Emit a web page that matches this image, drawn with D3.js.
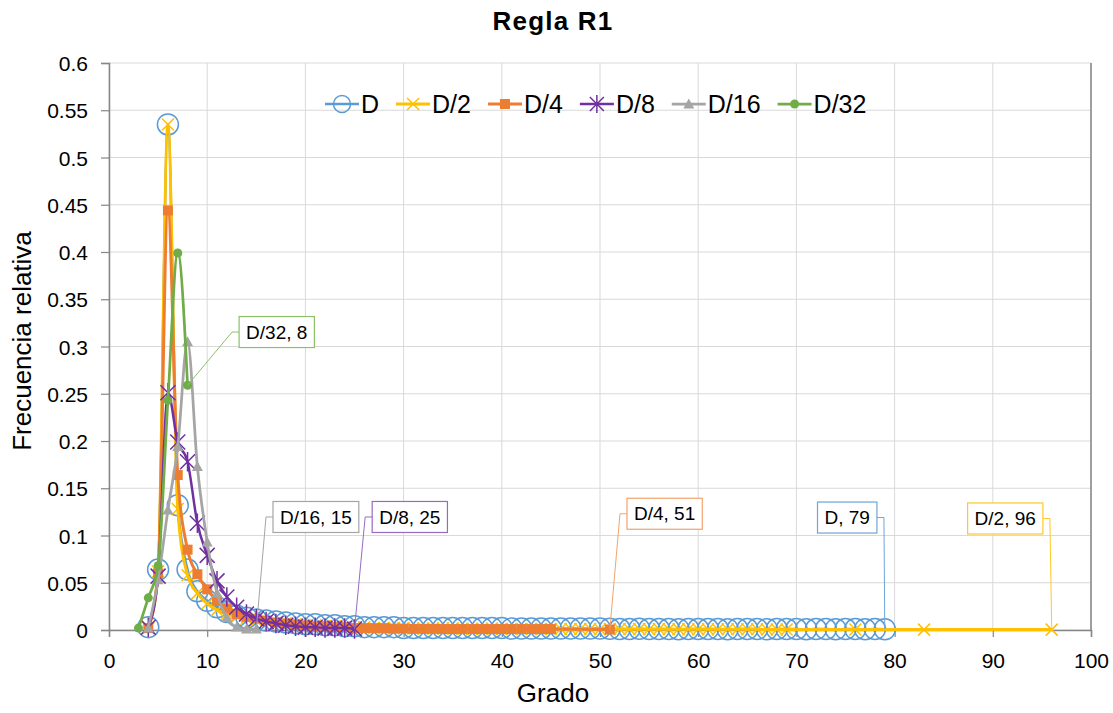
<!DOCTYPE html>
<html>
<head>
<meta charset="utf-8">
<script src="https://cdn.jsdelivr.net/npm/d3@7"></script>
<style>
  body { margin: 0; background: #fff; }
  text { font-family: "Liberation Sans", Arial, sans-serif; fill: #000; }
</style>
</head>
<body>
<div id="chart"></div>
<script>
var w = 1113;
var h = 713;
var margin = ({top: 63, right: 22, bottom: 83, left: 109});

// datos: grado y frecuencia relativa por serie
var series = ["D", "D/2", "D/4", "D/8", "D/16", "D/32"];

var gradoD = d3.range(4, 80);
var freqD = [0.003, 0.064, 0.535, 0.132, 0.064, 0.041, 0.031, 0.024, 0.019, 0.015, 0.013, 0.011,
  0.010, 0.009, 0.008, 0.007, 0.006, 0.006, 0.005, 0.005, 0.004, 0.004, 0.003, 0.003, 0.003, 0.003, 0.002,
  0.002, 0.002, 0.002, 0.002, 0.002, 0.002, 0.002, 0.002, 0.002, 0.002,
  0.0015, 0.0015, 0.0015, 0.0015, 0.0015, 0.0015, 0.0015, 0.0015, 0.0015, 0.0015,
  0.0012, 0.001, 0.001, 0.0012, 0.001, 0.001, 0.001, 0.0008, 0.001, 0.001, 0.001, 0.001, 0.0008, 0.001, 0.001,
  0.001, 0.0008, 0.001, 0.001, 0.001, 0.0008, 0.001, 0.001, 0.0008, 0.001, 0.001, 0.0008, 0.001, 0.0008];

var gradoD2 = d3.range(4, 70).concat([76, 83, 96]);
var freqD2 = [0.002, 0.062, 0.535, 0.128, 0.058, 0.039, 0.028, 0.021, 0.017, 0.014, 0.012, 0.010,
  0.009, 0.008, 0.007, 0.006, 0.005, 0.005, 0.004, 0.004, 0.003, 0.003, 0.003, 0.002, 0.002, 0.002, 0.002,
  0.0015, 0.0015, 0.0015, 0.0015, 0.0015, 0.0012, 0.0012, 0.0012, 0.0012, 0.0012, 0.001, 0.001, 0.001,
  0.001, 0.001, 0.001, 0.001, 0.001, 0.001, 0.0008, 0.001, 0.001, 0.0008, 0.001, 0.0008, 0.001, 0.0008,
  0.0008, 0.0008, 0.0008, 0.0007, 0.0008, 0.0007, 0.0007, 0.0007, 0.0007, 0.0006, 0.0006, 0.0006,
  0.0005, 0.0004, 0.0004];

var gradoD4 = d3.range(4, 46).concat([51]);
var freqD4 = [0.002, 0.060, 0.444, 0.164, 0.085, 0.059, 0.043, 0.031, 0.023, 0.017, 0.014, 0.012,
  0.010, 0.008, 0.007, 0.006, 0.005, 0.004, 0.004, 0.003, 0.003, 0.002, 0.002, 0.002, 0.002, 0.0015, 0.0015,
  0.0012, 0.0012, 0.0012, 0.001, 0.001, 0.001, 0.001, 0.001, 0.001, 0.001, 0.001, 0.001, 0.001, 0.001, 0.001,
  0.0005];

var gradoD8 = d3.range(4, 26);
var freqD8 = [0.003, 0.057, 0.251, 0.199, 0.178, 0.113, 0.079, 0.052, 0.035, 0.024, 0.017, 0.012,
  0.009, 0.007, 0.005, 0.004, 0.003, 0.003, 0.002, 0.002, 0.002, 0.001];

var gradoD16 = d3.range(4, 16);
var freqD16 = [0.002, 0.053, 0.127, 0.194, 0.305, 0.173, 0.093, 0.039, 0.013, 0.003, 0.001, 0.001];

var gradoD32 = d3.range(3, 9);
var freqD32 = [0.002, 0.034, 0.068, 0.243, 0.399, 0.259];

var xTicks = [0, 10, 20, 30, 40, 50, 60, 70, 80, 90, 100];
var yTicks = [0, 0.05, 0.1, 0.15, 0.2, 0.25, 0.3, 0.35, 0.4, 0.45, 0.5, 0.55, 0.6];

var grados = [gradoD, gradoD2, gradoD4, gradoD8, gradoD16, gradoD32];
var freqs = [freqD, freqD2, freqD4, freqD8, freqD16, freqD32];

var colors = ["#5B9BD5", "#FFC000", "#ED7D31", "#7030A0", "#A5A5A5", "#70AD47"];
var boxColors = ["#6FA5D8", "#FFC727", "#F4A36C", "#9A6AC0", "#A5A5A5", "#8CC06A"];
var markers = ["circle", "x", "square", "star", "triangle", "dot"];

// posicion de las etiquetas (en unidades de datos) y lado del cuadro
var labelPos = [
  {x: 78.2, y: 0.119, side: "left"},
  {x: 95.1, y: 0.118, side: "left"},
  {x: 52.75, y: 0.123, side: "right"},
  {x: 26.8, y: 0.1196, side: "right"},
  {x: 16.7, y: 0.1196, side: "right"},
  {x: 13.25, y: 0.3153, side: "right"}
];

var data = series.map(function(name, i) {
  return {
    name: name,
    values: grados[i].map(function(g, j) { return {x: g, y: freqs[i][j]}; })
  };
});

var xScale = d3.scaleLinear().domain([0, 100]).range([margin.left, w - margin.right]);
var yScale = d3.scaleLinear().domain([0, 0.6]).range([h - margin.bottom, margin.top]);

var svg = d3.select("#chart").append("svg")
  .attr("width", w)
  .attr("height", h);

// grid
svg.append("g")
  .selectAll("line.hgrid")
  .data(yTicks)
  .enter().append("line")
  .attr("x1", margin.left).attr("x2", w - margin.right)
  .attr("y1", function(d) { return yScale(d); })
  .attr("y2", function(d) { return yScale(d); })
  .attr("stroke", "#d9d9d9").attr("stroke-width", 1);
svg.append("g")
  .selectAll("line.vgrid")
  .data(xTicks)
  .enter().append("line")
  .attr("y1", margin.top).attr("y2", h - margin.bottom)
  .attr("x1", function(d) { return xScale(d); })
  .attr("x2", function(d) { return xScale(d); })
  .attr("stroke", "#d9d9d9").attr("stroke-width", 1);

// borde derecho
svg.append("line")
  .attr("x1", xScale(100)).attr("x2", xScale(100))
  .attr("y1", yScale(0.6)).attr("y2", yScale(0))
  .attr("stroke", "#868686").attr("stroke-width", 1.5);

// axes
var xAxis = svg.append("g")
  .attr("transform", "translate(0," + yScale(0) + ")")
  .call(d3.axisBottom(xScale).tickValues(xTicks).tickSize(7).tickPadding(16).tickFormat(d3.format("d")));
var yAxis = svg.append("g")
  .attr("transform", "translate(" + xScale(0) + ",0)")
  .call(d3.axisLeft(yScale).tickValues(yTicks).tickSize(8).tickPadding(13).tickFormat(function(d) { return String(d); }));
[xAxis, yAxis].forEach(function(ax) {
  ax.select(".domain").attr("stroke", "#868686").attr("stroke-width", 1.5);
  ax.selectAll(".tick line").attr("stroke", "#868686").attr("stroke-width", 1.2);
  ax.selectAll(".tick text")
    .attr("font-size", 21)
    .attr("font-family", "Liberation Sans, Arial, sans-serif")
    .attr("fill", "#000");
});
yAxis.selectAll(".tick text").attr("dy", "0.36em");

function drawMarker(g, type, color, size) {
  if (type == "circle") {
    g.append("circle").attr("r", size).attr("fill", "none")
      .attr("stroke", color).attr("stroke-width", 1.5);
  } else if (type == "x") {
    g.append("path").attr("d", "M" + (-size) + "," + (-size) + "L" + size + "," + size + "M" + (-size) + "," + size + "L" + size + "," + (-size))
      .attr("stroke", color).attr("stroke-width", 1.5).attr("fill", "none");
  } else if (type == "square") {
    g.append("rect").attr("x", -size).attr("y", -size).attr("width", size * 2).attr("height", size * 2)
      .attr("fill", color);
  } else if (type == "star") {
    g.append("path").attr("d", "M" + (-size) + "," + (-size) + "L" + size + "," + size + "M" + (-size) + "," + size + "L" + size + "," + (-size) + "M0," + (-size * 1.3) + "L0," + (size * 1.3))
      .attr("stroke", color).attr("stroke-width", 1.5).attr("fill", "none");
  } else if (type == "triangle") {
    g.append("path").attr("d", "M0," + (-size) + "L" + size + "," + (size * 0.8) + "L" + (-size) + "," + (size * 0.8) + "Z")
      .attr("fill", color);
  } else if (type == "dot") {
    g.append("circle").attr("r", size).attr("fill", color);
  }
}

var markerSize = [10.5, 6, 5, 7.5, 5.5, 4.5];
var lineWidth = [2.5, 3, 3, 2.5, 2.75, 2.75];

var line = d3.line()
  .x(function(d) { return xScale(d.x); })
  .y(function(d) { return yScale(d.y); })
  .curve(d3.curveMonotoneX);

data.forEach(function(s, i) {
  var g = svg.append("g").attr("class", "serie");
  g.append("path")
    .datum(s.values)
    .attr("d", line)
    .attr("fill", "none")
    .attr("stroke", colors[i])
    .attr("stroke-width", lineWidth[i])
    .attr("stroke-linejoin", "round");
  g.selectAll("g.mark")
    .data(s.values)
    .enter().append("g")
    .attr("transform", function(d) { return "translate(" + xScale(d.x) + "," + yScale(d.y) + ")"; })
    .each(function() { drawMarker(d3.select(this), markers[i], colors[i], markerSize[i]); });
});

// etiquetas de datos del ultimo punto
data.forEach(function(s, i) {
  var last = s.values[s.values.length - 1];
  var px = xScale(last.x), py = yScale(last.y);
  var lp = labelPos[i];
  var g = svg.append("g");
  var txt = g.append("text")
    .attr("font-size", 19)
    .attr("text-anchor", "middle")
    .attr("dy", "0.35em")
    .text(s.name + ", " + last.x);
  var tw = txt.node().getComputedTextLength();
  var bw = tw + 14, bh = 31;
  var bx = lp.side == "right" ? xScale(lp.x) : xScale(lp.x) - bw;
  var by = yScale(lp.y) - bh / 2;
  var ex = lp.side == "right" ? bx : bx + bw;
  var kx = lp.side == "right" ? ex - 7 : ex + 7;
  var ey = by + bh / 2;
  g.insert("path", "text")
    .attr("d", "M" + ex + "," + ey + "L" + kx + "," + ey + "L" + px + "," + py)
    .attr("fill", "none").attr("stroke", boxColors[i]).attr("stroke-width", 1);
  g.insert("rect", "text")
    .attr("x", bx).attr("y", by).attr("width", bw).attr("height", bh)
    .attr("fill", "#fff").attr("stroke", boxColors[i]).attr("stroke-width", 1.2);
  txt.attr("x", bx + bw / 2).attr("y", ey);
});

// leyenda
var legend = svg.append("g");
var lx = 325, ly = 104;
series.forEach(function(name, i) {
  legend.append("line")
    .attr("x1", lx).attr("x2", lx + 34).attr("y1", ly).attr("y2", ly)
    .attr("stroke", colors[i]).attr("stroke-width", lineWidth[i]);
  var mg = legend.append("g").attr("transform", "translate(" + (lx + 17) + "," + ly + ")");
  drawMarker(mg, markers[i], colors[i], i == 0 ? 8.5 : (i == 3 ? 7 : markerSize[i]));
  var t = legend.append("text")
    .attr("x", lx + 36).attr("y", ly).attr("dy", "0.35em")
    .attr("font-size", 25)
    .text(name);
  lx = lx + 36 + t.node().getComputedTextLength() + 17;
});

// titulos
svg.append("text")
  .attr("x", 553).attr("y", 30)
  .attr("text-anchor", "middle")
  .attr("font-size", 26).attr("font-weight", "bold")
  .attr("letter-spacing", 1.2)
  .text("Regla R1");
svg.append("text")
  .attr("x", 553).attr("y", 702)
  .attr("text-anchor", "middle")
  .attr("font-size", 26)
  .text("Grado");
svg.append("text")
  .attr("transform", "translate(31," + 341 + ") rotate(-90)")
  .attr("text-anchor", "middle")
  .attr("font-size", 26)
  .text("Frecuencia relativa");
</script>
</body>
</html>
